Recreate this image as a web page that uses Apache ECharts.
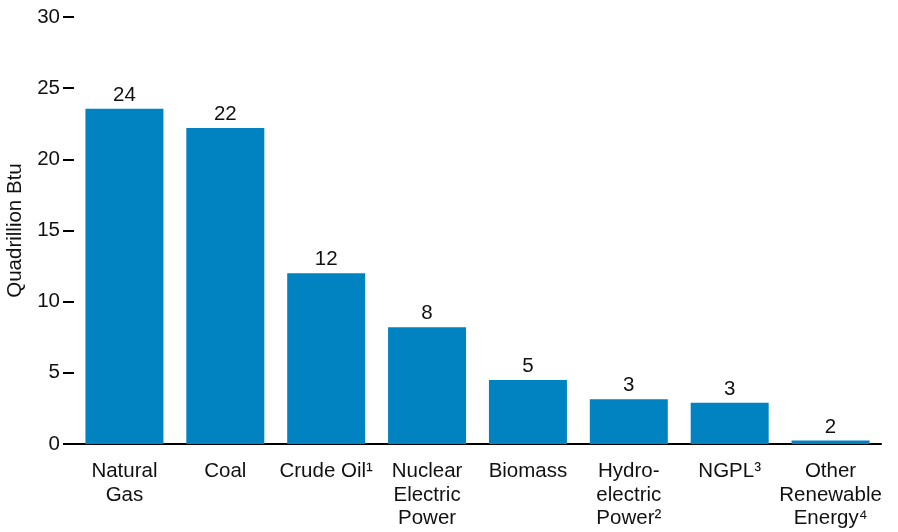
<!DOCTYPE html>
<html><head><meta charset="utf-8">
<script src="https://cdn.jsdelivr.net/npm/echarts@6/dist/echarts.min.js"></script>
<style>html,body{margin:0;padding:0;background:#fff}#c{width:898px;height:532px}</style>
</head><body><div id="c"></div>
<script>
const categories = ['Natural\nGas', 'Coal', 'Crude Oil\u00B9', 'Nuclear\nElectric\nPower', 'Biomass', 'Hydro-\nelectric\nPower\u00B2', 'NGPL\u00B3', 'Other\nRenewable\nEnergy\u2074'];
const values = [23.55, 22.2, 12.0, 8.2, 4.5, 3.15, 2.9, 0.25];
const valueLabels = ['24', '22', '12', '8', '5', '3', '3', '2'];
const yTicks = [0, 5, 10, 15, 20, 25, 30];
const font = 'Liberation Sans, Arial, sans-serif';
const chart = echarts.init(document.getElementById('c'));
chart.setOption({
  animation: false,
  grid: { left: 74, right: 17, top: 17, bottom: 88, containLabel: false, outerBoundsMode: 'none' },
  xAxis: {
    type: 'category', data: categories,
    axisLine: { lineStyle: { color: '#000', width: 2 } },
    axisTick: { show: false },
    axisLabel: { color: '#111', fontFamily: font, fontSize: 20.5, lineHeight: 23.5, margin: 16, interval: 0 }
  },
  yAxis: {
    type: 'value', min: 0, max: 30, interval: 5,
    name: 'Quadrillion Btu', nameLocation: 'middle', nameGap: 47,
    nameTextStyle: { color: '#111', fontFamily: font, fontSize: 20.5 },
    splitLine: { show: false },
    axisLine: { show: false },
    axisTick: { show: true, length: 11, lineStyle: { color: '#000', width: 2 } },
    axisLabel: { color: '#111', fontFamily: font, fontSize: 20.5, margin: 14,
      formatter: v => yTicks.includes(v) ? String(v) : '' }
  },
  series: [{
    type: 'bar', data: values, barWidth: 78,
    itemStyle: { color: '#0283C1' },
    label: { show: true, position: 'top', distance: 3, color: '#111', fontFamily: font, fontSize: 20.5,
      formatter: p => valueLabels[p.dataIndex] }
  }]
});
</script></body></html>
